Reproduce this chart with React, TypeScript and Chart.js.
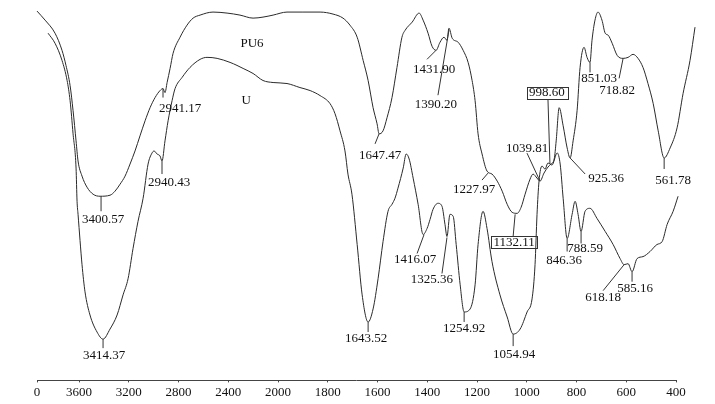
import React, { useEffect, useRef } from 'react';
import { Chart, registerables } from 'chart.js';

Chart.register(...registerables);

// x-axis tick wavenumbers (cm-1) and their printed labels; axis starts at the "0" label
const TICK_WAVENUMBERS = [3938, 3600, 3200, 2800, 2400, 2000, 1800, 1600, 1400, 1200, 1000, 800, 600, 400];
const TICK_LABELS = ['0', '3600', '3200', '2800', '2400', '2000', '1800', '1600', '1400', '1200', '1000', '800', '600', '400'];
// the PU6 trace runs on past the end of the printed axis
const PLOT_END_WN = 324;

// PU6 spectrum: wavenumber (cm-1) and transmittance (a.u.)
const PU6_WN = [3938, 3873, 3793, 3737, 3705, 3672, 3648, 3624, 3608, 3576, 3536, 3487, 3431, 3351, 3311, 3270, 3230, 3190, 3150, 3110, 3069, 3029, 2989, 2949, 2925, 2909, 2892, 2868, 2844, 2788, 2732, 2683, 2627, 2523, 2410, 2306, 2201, 2121, 2040, 1964, 1900, 1831, 1779, 1739, 1711, 1682, 1658, 1638, 1618, 1602, 1594, 1578, 1562, 1542, 1522, 1502, 1489, 1461, 1433, 1417, 1397, 1381, 1365, 1349, 1333, 1321, 1313, 1300, 1276, 1256, 1236, 1220, 1208, 1196, 1180, 1160, 1140, 1119, 1099, 1079, 1059, 1039, 1023, 1007, 987, 975, 959, 947, 931, 915, 903, 890, 882, 870, 854, 838, 826, 814, 798, 786, 770, 758, 746, 738, 726, 714, 698, 685, 673, 657, 637, 613, 593, 573, 553, 533, 513, 492, 472, 448, 424, 396, 372, 344, 324];
const PU6_T = [367, 358, 345, 328, 313, 293, 268, 238, 218, 203, 192, 185, 183, 184, 188, 195, 203, 215, 228, 243, 258, 271, 281, 288, 290, 286, 296, 310, 325, 341, 353, 360, 363, 366, 365, 363, 360, 361, 363, 366, 366, 366, 364, 360, 353, 341, 318, 298, 271, 255, 245, 248, 261, 281, 311, 341, 348, 356, 365, 358, 345, 332, 328, 336, 341, 338, 350, 340, 336, 328, 316, 298, 278, 245, 225, 208, 205, 198, 188, 175, 167, 166, 172, 185, 200, 205, 201, 198, 206, 212, 215, 220, 238, 271, 253, 231, 221, 238, 268, 311, 331, 321, 316, 338, 358, 366, 358, 345, 343, 335, 323, 320, 321, 324, 320, 311, 295, 275, 248, 221, 231, 251, 285, 318, 351];

// U spectrum
const U_WN = [3849, 3793, 3737, 3696, 3672, 3648, 3624, 3616, 3608, 3576, 3552, 3512, 3455, 3407, 3351, 3294, 3246, 3206, 3166, 3126, 3085, 3045, 3013, 2997, 2973, 2949, 2933, 2909, 2884, 2852, 2828, 2772, 2708, 2627, 2571, 2490, 2386, 2330, 2281, 2201, 2121, 2040, 1964, 1912, 1871, 1831, 1791, 1771, 1751, 1731, 1719, 1703, 1682, 1662, 1638, 1618, 1598, 1578, 1558, 1542, 1530, 1518, 1497, 1485, 1473, 1457, 1437, 1417, 1401, 1389, 1377, 1357, 1341, 1329, 1321, 1309, 1296, 1284, 1268, 1252, 1228, 1208, 1196, 1176, 1160, 1140, 1108, 1079, 1055, 1027, 999, 979, 967, 959, 951, 939, 927, 915, 899, 878, 866, 854, 838, 818, 806, 794, 782, 766, 746, 718, 685, 653, 625, 609, 593, 577, 557, 533, 505, 477, 456, 436, 412, 392];
const U_T = [345, 335, 318, 298, 278, 245, 211, 178, 165, 115, 88, 65, 48, 41, 51, 65, 85, 101, 131, 158, 181, 215, 226, 228, 225, 223, 218, 238, 258, 278, 290, 301, 311, 319, 321, 320, 316, 313, 310, 305, 298, 296, 295, 291, 288, 283, 275, 265, 248, 228, 205, 185, 135, 85, 58, 71, 101, 138, 168, 175, 181, 191, 211, 225, 220, 201, 175, 145, 151, 160, 170, 176, 173, 155, 143, 165, 163, 135, 95, 68, 71, 95, 135, 168, 151, 118, 85, 63, 46, 51, 68, 81, 115, 165, 198, 213, 210, 216, 214, 226, 215, 181, 141, 165, 178, 165, 148, 168, 171, 161, 148, 135, 121, 115, 116, 108, 121, 123, 128, 135, 138, 155, 168, 183];

// peak annotations: printed text, anchor wavenumber and transmittance on the curve
const PEAK_TEXT = ['3400.57', '3414.37', '2941.17', '2940.43', '1647.47', '1431.90', '1390.20', '1227.97', '1132.11', '1039.81', '998.60', '925.36', '851.03', '718.82', '561.78', '1416.07', '1325.36', '1254.92', '1643.52', '1054.94', '846.36', '788.59', '618.18', '585.16'];
const PEAK_WN = [3423, 3407, 2925, 2933, 1594, 1365, 1313, 1156, 1047, 947, 907, 826, 746, 613, 448, 1413, 1321, 1252, 1638, 1055, 838, 782, 609, 577];
const PEAK_T = [183, 41, 290, 218, 245, 328, 348, 206, 165, 198, 215, 221, 316, 320, 221, 145, 142, 68, 58, 46, 141, 148, 115, 108];

// series name labels
const SERIES_NAMES = ['PU6', 'U'];
const SERIES_NAME_WN = [2209, 2257];
const SERIES_NAME_T = [335, 278];

// layout of annotation leaders/text (pixel offsets from anchor)
const LABEL_LAYOUT = [
  { lx: 0, ly: 15, tx: 2, ty: 23 },
  { lx: 0, ly: 9, tx: 1, ty: 16 },
  { lx: 0, ly: 9, tx: 17, ty: 20 },
  { lx: 0, ly: 13, tx: 7, ty: 22 },
  { lx: -4, ly: 10, tx: 1, ty: 22 },
  { lx: -9, ly: 9, tx: -2, ty: 19 },
  { lx: -11, ly: 65, tx: -13, ty: 74 },
  { lx: -6, ly: 7, tx: -14, ty: 16 },
  { lx: -2, ly: 22, tx: -1, ty: 28, box: true },
  { lx: -13, ly: -28, tx: -13, ty: -33 },
  { lx: -2, ly: -65, tx: -3, ty: -71, box: true },
  { lx: 15, ly: 16, tx: 36, ty: 21 },
  { lx: 0, ly: 10, tx: 9, ty: 16 },
  { lx: -4, ly: 20, tx: -6, ty: 32 },
  { lx: 0, ly: 11, tx: 9, ty: 23 },
  { lx: -7, ly: 19, tx: -9, ty: 25 },
  { lx: -5, ly: 36, tx: -15, ty: 42 },
  { lx: 0, ly: 10, tx: 0, ty: 17 },
  { lx: 0, ly: 10, tx: -2, ty: 17 },
  { lx: 0, ly: 12, tx: 1, ty: 20 },
  { lx: 0, ly: 13, tx: -3, ty: 22 },
  { lx: 0, ly: 12, tx: 4, ty: 17 },
  { lx: -21, ly: 26, tx: -21, ty: 33 },
  { lx: 0, ly: 10, tx: 3, ty: 17 },
];

const FONT = '"Liberation Serif", "Times New Roman", serif';

// broken wavenumber axis: 400 cm-1 per division above 2000, 200 cm-1 below
function wnToPos(wn: number): number {
  return wn >= 2000 ? (3600 - wn) / 400 : 4 + (2000 - wn) / 200;
}

const axisLinePlugin = {
  id: 'axisLine',
  beforeDatasetsDraw(chart: any) {
    const { ctx, chartArea } = chart;
    const xs = chart.scales.x;
    const x0 = xs.getPixelForValue(wnToPos(TICK_WAVENUMBERS[0]));
    const x1 = xs.getPixelForValue(wnToPos(TICK_WAVENUMBERS[TICK_WAVENUMBERS.length - 1]));
    const y = Math.round(chartArea.bottom) + 0.5;
    ctx.save();
    ctx.strokeStyle = '#444';
    ctx.lineWidth = 1;
    ctx.beginPath();
    ctx.moveTo(x0, y);
    ctx.lineTo(x1, y);
    ctx.stroke();
    ctx.restore();
  },
};

const peakLabelPlugin = {
  id: 'peakLabels',
  afterDatasetsDraw(chart: any) {
    const { ctx } = chart;
    const xs = chart.scales.x;
    const ys = chart.scales.y;
    ctx.save();
    ctx.font = `13px ${FONT}`;
    ctx.fillStyle = '#111';
    ctx.strokeStyle = '#333';
    ctx.lineWidth = 1;
    ctx.textAlign = 'center';
    ctx.textBaseline = 'middle';
    PEAK_TEXT.forEach((t, i) => {
      const px = xs.getPixelForValue(wnToPos(PEAK_WN[i]));
      const py = ys.getPixelForValue(PEAK_T[i]);
      const o: any = LABEL_LAYOUT[i];
      ctx.beginPath();
      ctx.moveTo(px, py);
      ctx.lineTo(px + o.lx, py + o.ly);
      ctx.stroke();
      const tx = px + o.tx;
      const ty = py + o.ty;
      ctx.fillText(t, tx, ty);
      if (o.box) {
        const w = ctx.measureText(t).width;
        ctx.strokeRect(Math.round(tx - w / 2 - 2.5) + 0.5, Math.round(ty - 6.5) + 0.5, Math.round(w + 5), 12);
      }
    });
    SERIES_NAMES.forEach((n, i) => {
      const px = xs.getPixelForValue(wnToPos(SERIES_NAME_WN[i]));
      const py = ys.getPixelForValue(SERIES_NAME_T[i]);
      ctx.fillText(n, px, py);
    });
    ctx.restore();
  },
};

export default function App() {
  const canvasRef = useRef<HTMLCanvasElement | null>(null);

  useEffect(() => {
    document.body.style.margin = '0';
    const canvas = canvasRef.current;
    if (!canvas) return;
    const toPoints = (wns: number[], ts: number[]) => wns.map((wn, i) => ({ x: wnToPos(wn), y: ts[i] }));
    const chart = new Chart(canvas, {
      type: 'line',
      data: {
        datasets: [
          {
            label: 'PU6',
            data: toPoints(PU6_WN, PU6_T),
            borderColor: '#2a2a2a',
            borderWidth: 1,
            pointRadius: 0,
            cubicInterpolationMode: 'monotone',
            clip: false,
          },
          {
            label: 'U',
            data: toPoints(U_WN, U_T),
            borderColor: '#2a2a2a',
            borderWidth: 1,
            pointRadius: 0,
            cubicInterpolationMode: 'monotone',
            clip: false,
          },
        ],
      },
      options: {
        animation: false,
        responsive: true,
        maintainAspectRatio: false,
        layout: { padding: { left: 37, right: 20, top: 0, bottom: 2 } },
        plugins: { legend: { display: false }, tooltip: { enabled: false } },
        scales: {
          x: {
            type: 'linear',
            min: wnToPos(TICK_WAVENUMBERS[0]),
            max: wnToPos(PLOT_END_WN),
            afterBuildTicks: (scale: any) => {
              scale.ticks = TICK_WAVENUMBERS.map((wn) => ({ value: wnToPos(wn) }));
            },
            grid: { display: true, drawOnChartArea: false, drawTicks: true, tickLength: 2, color: '#444' },
            border: { display: false },
            ticks: {
              autoSkip: false,
              maxRotation: 0,
              padding: 2,
              color: '#111',
              font: { family: FONT, size: 13 },
              callback: (_v: any, index: number) => TICK_LABELS[index],
            },
          },
          y: {
            type: 'linear',
            display: false,
            min: 0,
            max: 378,
          },
        },
      },
      plugins: [axisLinePlugin, peakLabelPlugin],
    });
    return () => chart.destroy();
  }, []);

  return (
    <div style={{ position: 'absolute', left: 0, top: 0, width: 715, height: 404, background: '#fff' }}>
      <canvas ref={canvasRef} />
    </div>
  );
}
